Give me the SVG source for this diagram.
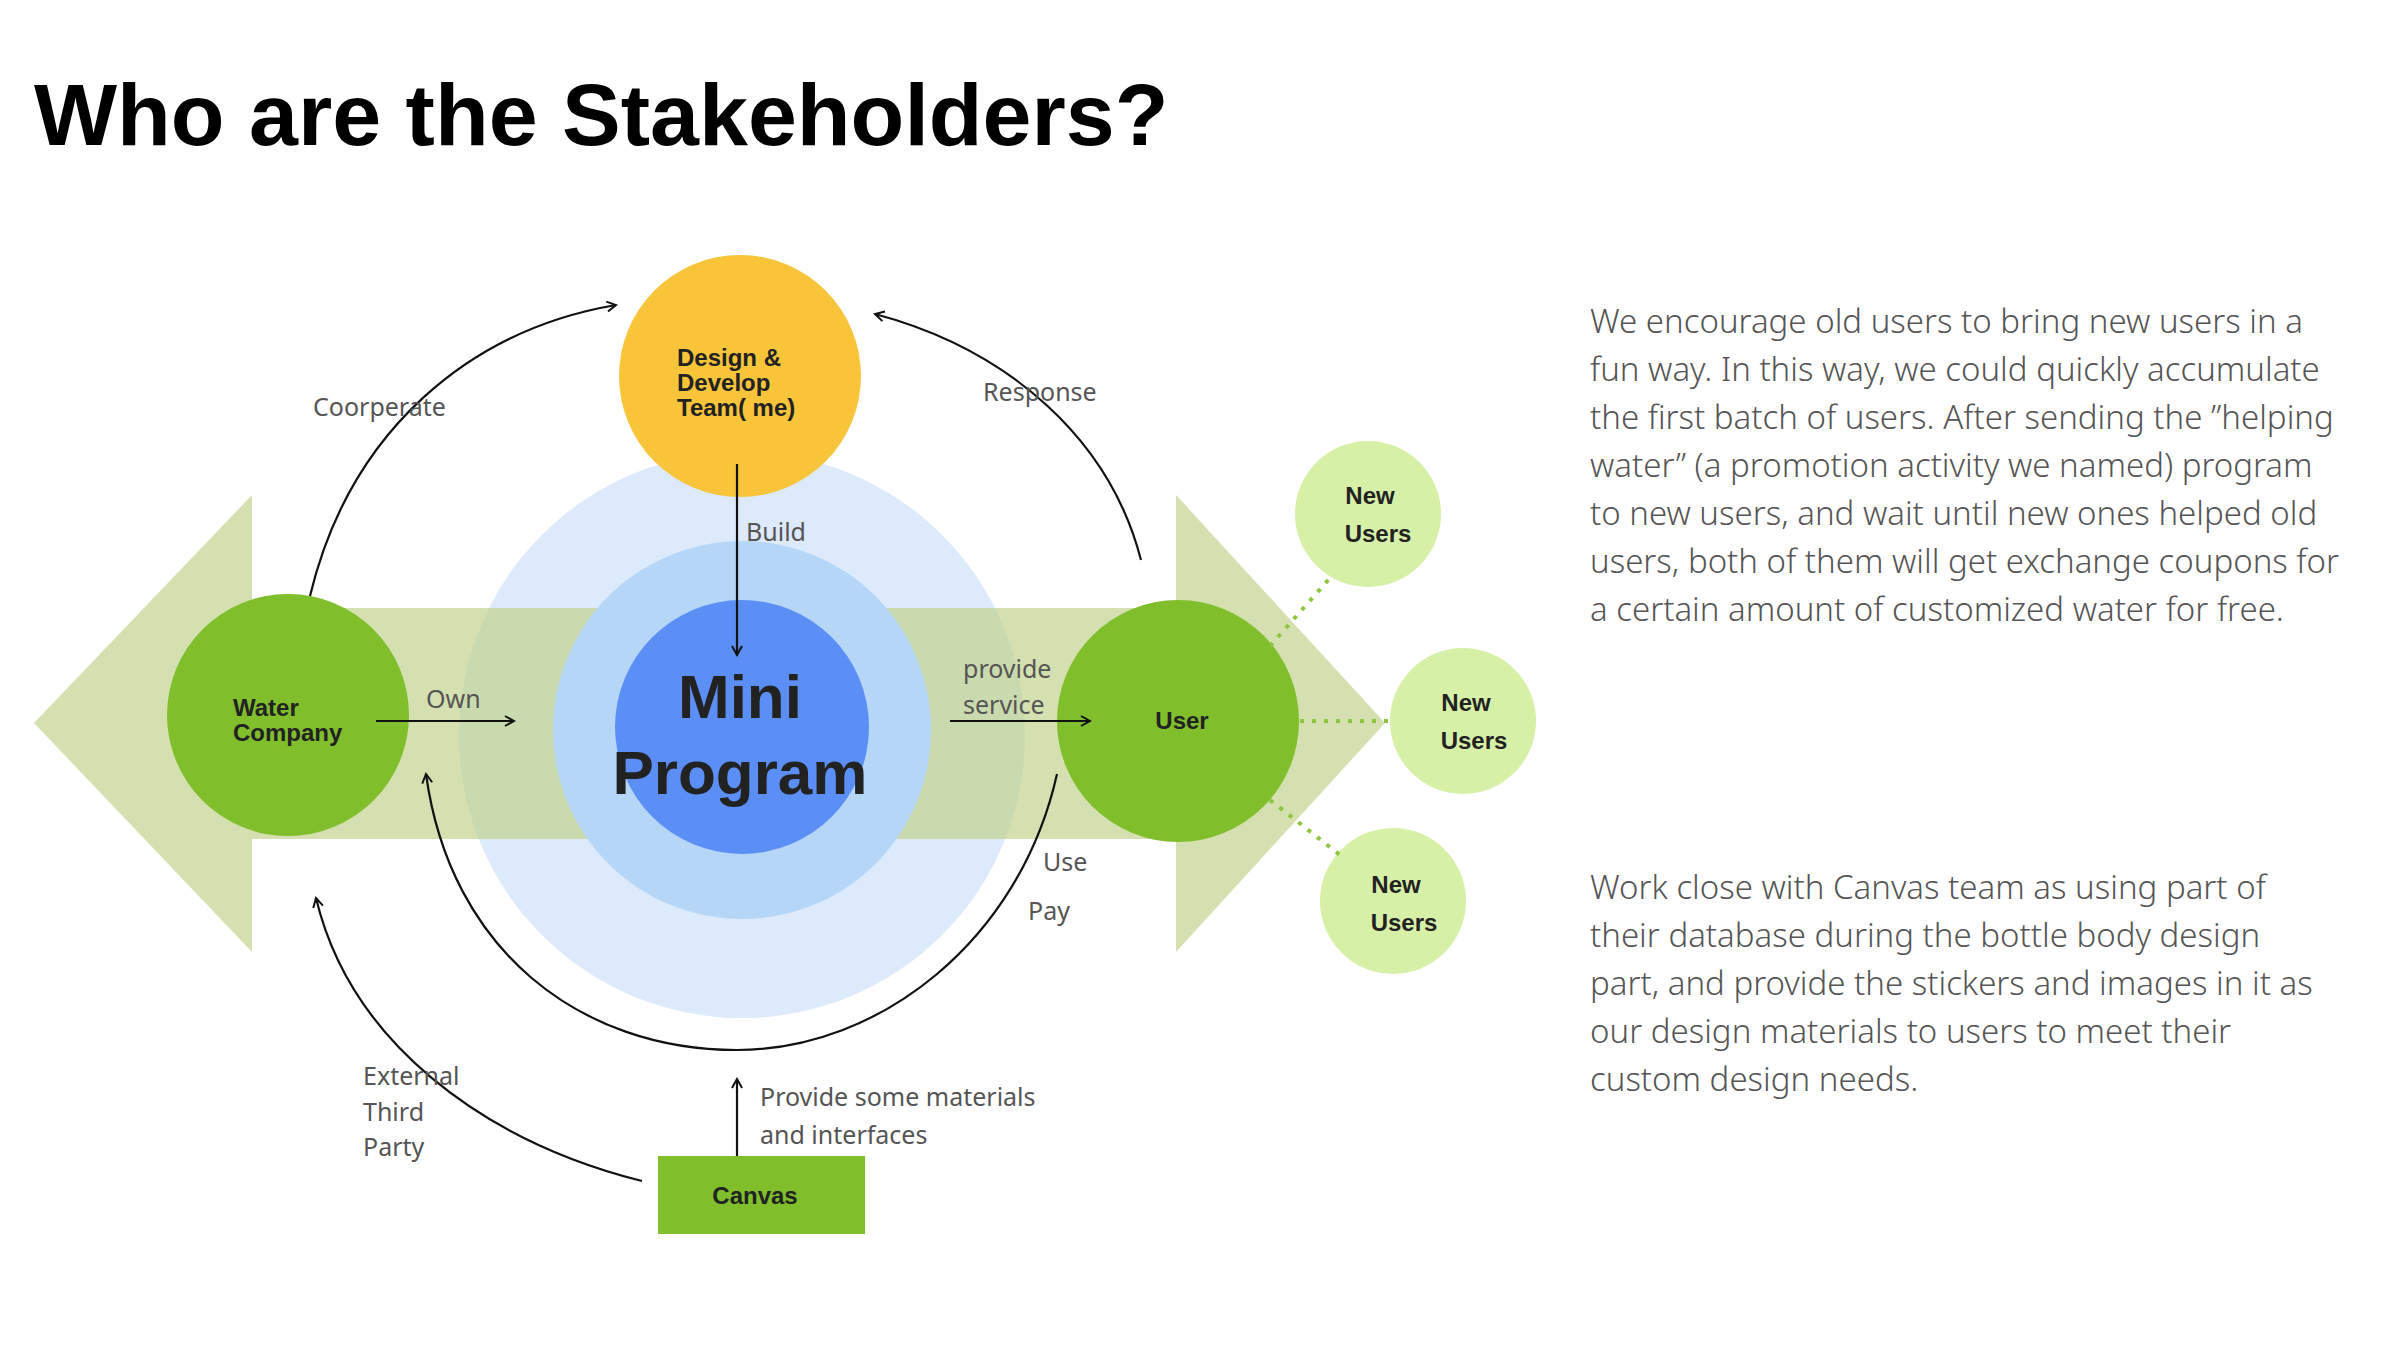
<svg xmlns="http://www.w3.org/2000/svg" width="2400" height="1350" viewBox="0 0 2400 1350">
<defs>
<marker id="ah" viewBox="0 0 12 12" refX="10" refY="6" markerWidth="12" markerHeight="12" markerUnits="userSpaceOnUse" orient="auto"><path d="M1,1 L10,6 L1,11" fill="none" stroke="#111" stroke-width="2"/></marker>
</defs>
<style>
.t{font-family:"Liberation Sans",Arial,sans-serif}
.lbl{font-family:"Noto Sans","Liberation Sans",sans-serif;font-size:25px;fill:#555}
.nd{font-family:"Liberation Sans",Arial,sans-serif;font-size:24px;font-weight:bold;fill:#222}
.p{font-family:"Noto Sans","Liberation Sans",sans-serif;font-size:33px;fill:#555;font-weight:300}
.c{fill:none;stroke:#111;stroke-width:2.2}
</style>
<rect width="2400" height="1350" fill="#fff"/>
<text class="t" x="34" y="145" font-size="88" font-weight="bold" fill="#000">Who are the Stakeholders?</text>
<g id="background">
<circle cx="742" cy="735" r="283" fill="#dceafb"/>
<path d="M34,723 L252,495 L252,608 L1176,608 L1176,495 L1385,723 L1176,952 L1176,839 L252,839 L252,952 Z" fill="#c2d38e" opacity="0.7"/>
</g>
<g id="mini-program">
<circle cx="742" cy="730" r="189" fill="#b6d6f8"/>
<circle cx="742" cy="727" r="127" fill="#5b8ff5"/>
<text class="t" x="740" y="718" font-size="62" font-weight="bold" fill="#222" text-anchor="middle">Mini</text>
<text class="t" x="740" y="794" font-size="62" font-weight="bold" fill="#222" text-anchor="middle">Program</text>
</g>
<g id="design-team">
<circle cx="740" cy="376" r="121" fill="#f8c43a"/>
<text class="nd" x="677" y="366">Design &amp;</text>
<text class="nd" x="677" y="391">Develop</text>
<text class="nd" x="677" y="416">Team( me)</text>
</g>
<g id="water-company">
<circle cx="288" cy="715" r="121" fill="#80be2c"/>
<text class="nd" x="233" y="716">Water</text>
<text class="nd" x="233" y="741">Company</text>
</g>
<g id="user">
<circle cx="1178" cy="721" r="121" fill="#80be2c"/>
<text class="nd" x="1182" y="729" text-anchor="middle">User</text>
</g>
<g id="new-users-1">
<circle cx="1368" cy="514" r="73" fill="#d6f0a8"/>
<text class="nd" x="1370" y="504" text-anchor="middle">New</text>
<text class="nd" x="1378" y="542" text-anchor="middle">Users</text>
</g>
<g id="new-users-2">
<circle cx="1463" cy="721" r="73" fill="#d6f0a8"/>
<text class="nd" x="1466" y="711" text-anchor="middle">New</text>
<text class="nd" x="1474" y="749" text-anchor="middle">Users</text>
</g>
<g id="new-users-3">
<circle cx="1393" cy="901" r="73" fill="#d6f0a8"/>
<text class="nd" x="1396" y="893" text-anchor="middle">New</text>
<text class="nd" x="1404" y="931" text-anchor="middle">Users</text>
</g>
<g id="canvas">
<rect x="658" y="1156" width="207" height="78" fill="#80be2c"/>
<text class="nd" x="755" y="1204" text-anchor="middle">Canvas</text>
</g>
<g id="connectors">
<path class="c" d="M310,596 C350,430 470,330 616,305" marker-end="url(#ah)"/>
<path class="c" d="M1141,560 C1110,440 1010,350 875,314" marker-end="url(#ah)"/>
<path class="c" d="M737,464 L737,655" marker-end="url(#ah)"/>
<path class="c" d="M376,721 L514,721" marker-end="url(#ah)"/>
<path class="c" d="M950,721 L1090,721" marker-end="url(#ah)"/>
<path class="c" d="M1057,774 C1020,940 880,1050 737,1050 C580,1050 450,950 426,774" marker-end="url(#ah)"/>
<path class="c" d="M642,1181 C480,1140 350,1040 316,898" marker-end="url(#ah)"/>
<path class="c" d="M737,1156 L737,1079" marker-end="url(#ah)"/>
<g stroke="#8cc43c" stroke-width="4" stroke-dasharray="4,8" fill="none">
<path d="M1270,646 L1330,578"/>
<path d="M1300,721 L1390,721"/>
<path d="M1270,800 L1340,855"/>
</g>
</g>
<g id="labels">
<text class="lbl" x="313" y="416">Coorperate</text>
<text class="lbl" x="983" y="401">Response</text>
<text class="lbl" x="746" y="541">Build</text>
<text class="lbl" x="426" y="708">Own</text>
<text class="lbl" x="963" y="678">provide</text>
<text class="lbl" x="963" y="714">service</text>
<text class="lbl" x="1043" y="871">Use</text>
<text class="lbl" x="1028" y="920">Pay</text>
<text class="lbl" x="363" y="1085">External</text>
<text class="lbl" x="363" y="1121">Third</text>
<text class="lbl" x="363" y="1156">Party</text>
<text class="lbl" x="760" y="1106">Provide some materials</text>
<text class="lbl" x="760" y="1144">and interfaces</text>
</g>
<g id="text-blocks">
<text class="p" x="1590" y="333">We encourage old users to bring new users in a</text>
<text class="p" x="1590" y="381">fun way. In this way, we could quickly accumulate</text>
<text class="p" x="1590" y="429">the first batch of users. After sending the ”helping</text>
<text class="p" x="1590" y="477">water” (a promotion activity we named) program</text>
<text class="p" x="1590" y="525">to new users,  and wait until new ones helped old</text>
<text class="p" x="1590" y="573">users, both of them will get exchange coupons for</text>
<text class="p" x="1590" y="621">a certain amount of customized water for free.</text>
<text class="p" x="1590" y="899">Work close with Canvas team as using part of</text>
<text class="p" x="1590" y="947">their database during the bottle body design</text>
<text class="p" x="1590" y="995">part, and provide the stickers and images in it as</text>
<text class="p" x="1590" y="1043">our design materials to users to meet their</text>
<text class="p" x="1590" y="1091">custom design needs.</text>
</g>
</svg>
